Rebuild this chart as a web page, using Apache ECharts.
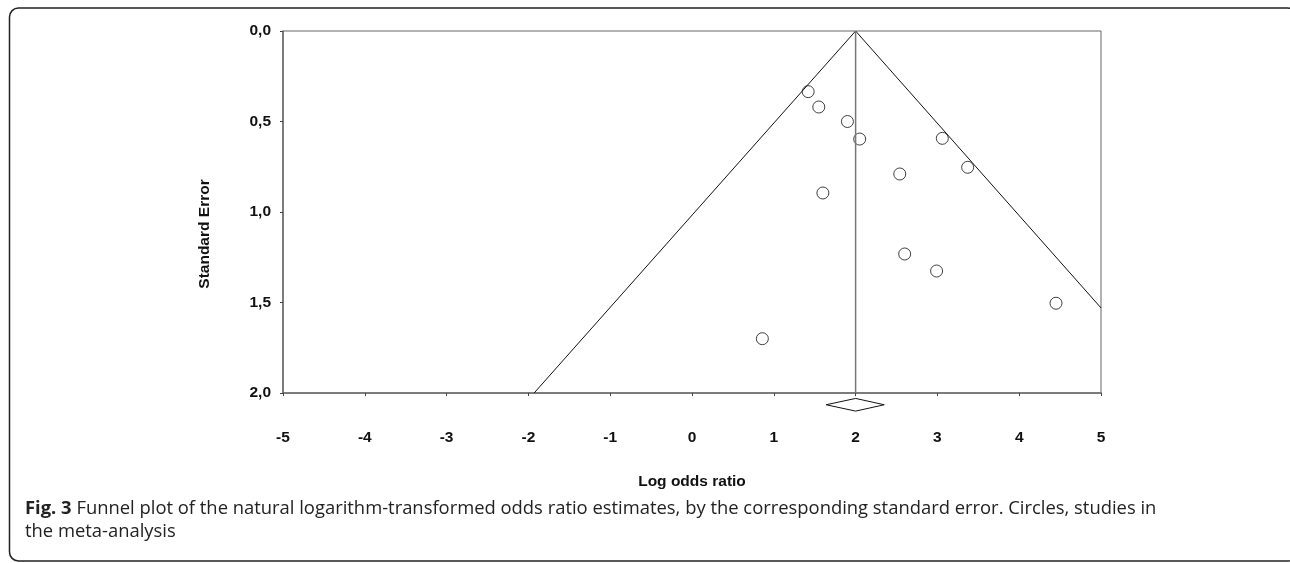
<!DOCTYPE html>
<html>
<head>
<meta charset="utf-8">
<script src="https://cdn.jsdelivr.net/npm/echarts@6/dist/echarts.min.js"></script>
<style>
  html, body { margin: 0; padding: 0; background: #fff; }
  #chart { width: 1290px; height: 563px; }
</style>
</head>
<body>
<div id="chart"></div>
<script>
// studies: [log odds ratio, standard error]
const studies = [
  [1.42, 0.335], [1.55, 0.42], [1.90, 0.50], [2.05, 0.597],
  [3.06, 0.593], [3.37, 0.753], [2.54, 0.79], [1.60, 0.895],
  [2.60, 1.232], [2.99, 1.326], [4.45, 1.504], [0.86, 1.70]
];
// funnel limits
const funnelLine = [[-1.93, 2.0], [2.0, 0.0], [5.0, 1.53]];
const pooledLine = [[2.0, 0.0], [2.0, 2.0]];
// pooled estimate diamond (under the axis)
const diamond = [[1.64, 2.065], [2.0, 2.03], [2.35, 2.065], [2.0, 2.1], [1.64, 2.065]];

const chart = echarts.init(document.getElementById('chart'), null, { renderer: 'canvas' });

const axisFont = { fontFamily: 'Liberation Sans', fontWeight: 'bold', fontSize: 15.5, color: '#111' };

const option = {
  animation: false,
  grid: { left: 283, right: 189, top: 31, bottom: 170, show: true, borderColor: '#666', borderWidth: 1 },
  xAxis: {
    type: 'value', min: -5, max: 5, interval: 1,
    name: 'Log odds ratio', nameLocation: 'middle', nameGap: 81,
    nameTextStyle: axisFont,
    axisLine: { onZero: false, lineStyle: { color: '#6b6b6b', width: 1.5 } },
    axisTick: { show: true, length: 3, lineStyle: { color: '#444' } },
    axisLabel: Object.assign({ margin: 37 }, axisFont),
    splitLine: { show: false }
  },
  yAxis: {
    type: 'value', min: 0, max: 2, interval: 0.5, inverse: true,
    name: 'Standard Error', nameLocation: 'middle', nameGap: 70, nameRotate: 90,
    nameTextStyle: Object.assign({ padding: [0, 44, 0, 0] }, axisFont),
    axisLine: { onZero: false, lineStyle: { color: '#6b6b6b', width: 1.5 } },
    axisTick: { show: true, length: 3, lineStyle: { color: '#444' } },
    axisLabel: Object.assign({
      margin: 12,
      formatter: v => v.toFixed(1).replace('.', ',')
    }, axisFont),
    splitLine: { show: false }
  },
  series: [
    {
      type: 'line', data: funnelLine, symbol: 'none', silent: true,
      lineStyle: { color: '#111', width: 1 }
    },
    {
      type: 'line', data: pooledLine, symbol: 'none', silent: true,
      lineStyle: { color: '#777', width: 1.5 }
    },
    {
      type: 'line', data: diamond, symbol: 'none', silent: true, clip: false,
      lineStyle: { color: '#111', width: 1 }
    },
    {
      type: 'scatter', data: studies, symbol: 'circle', symbolSize: 12,
      itemStyle: { color: '#fff', borderColor: '#111', borderWidth: 1 }
    }
  ],
  graphic: [
    {
      type: 'rect', silent: true,
      shape: { x: 9.5, y: 8, width: 1287, height: 553, r: 9 },
      style: { fill: 'none', stroke: '#222', lineWidth: 1.5 }
    },
    {
      type: 'text', left: 25, top: 497,
      style: {
        text: '{b|Fig. 3} Funnel plot of the natural logarithm-transformed odds ratio estimates, by the corresponding standard error. Circles, studies in\nthe meta-analysis',
        font: '18.4px "Open Sans"', fill: '#222', lineHeight: 23,
        rich: { b: { fontFamily: 'Open Sans', fontWeight: 'bold', fontSize: 18.4, fill: '#222' } }
      }
    }
  ]
};

chart.setOption(option);
</script>
</body>
</html>
